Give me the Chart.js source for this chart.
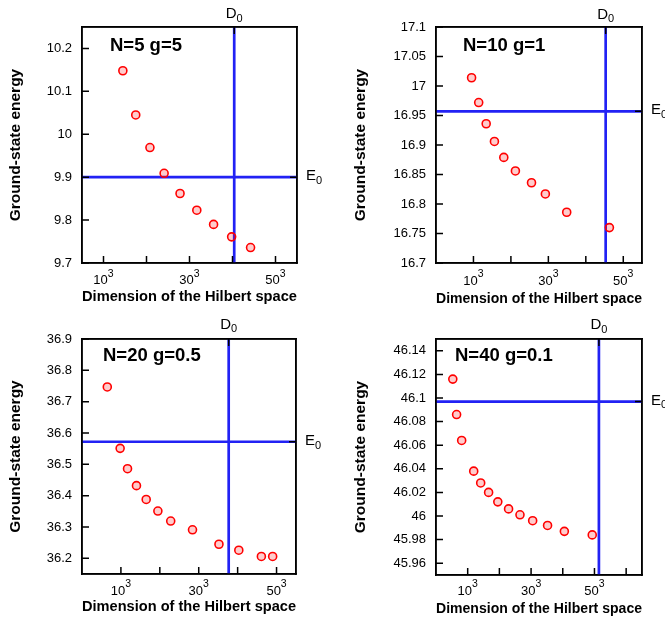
<!DOCTYPE html>
<html><head><meta charset="utf-8">
<script src="https://cdn.jsdelivr.net/npm/chart.js@4.4.1/dist/chart.umd.min.js"></script>
<style>
html,body{margin:0;padding:0;background:#fff;}
body{position:relative;width:665px;height:625px;overflow:hidden;}
canvas{position:absolute;}
</style></head><body>
<canvas id="c1"></canvas><canvas id="c2"></canvas><canvas id="c3"></canvas><canvas id="c4"></canvas>
<script>
// ---------------- data ----------------
const panelTitles = ['N=5 g=5', 'N=10 g=1', 'N=20 g=0.5', 'N=40 g=0.1'];
const xAxisTitle = 'Dimension of the Hilbert space';
const yAxisTitle = 'Ground-state energy';
const xTickValues = [10, 20, 30, 40, 50, 60];
const xTickLabelBase = ['10', '', '30', '', '50', ''];
const xTickLabelExp = ['3', '', '3', '', '3', ''];
const d0LabelBase = 'D', d0LabelSub = '0';
const e0LabelBase = 'E', e0LabelSub = '0';

// x = cube root of the Hilbert-space dimension, y = ground-state energy
const p1Dim = [14.5, 17.5, 20.8, 24.1, 27.8, 31.7, 35.6, 39.8, 44.2];
const p1Energy = [10.148, 10.045, 9.969, 9.909, 9.862, 9.823, 9.790, 9.761, 9.736];
const p2Dim = [9.5, 11.4, 13.4, 15.6, 18.1, 21.2, 25.5, 29.2, 34.9, 46.3];
const p2Energy = [17.014, 16.972, 16.936, 16.906, 16.879, 16.856, 16.836, 16.817, 16.786, 16.760];
const p3Dim = [6.5, 9.8, 11.7, 14.0, 16.5, 19.5, 22.8, 28.4, 35.2, 40.3, 46.1, 49.0];
const p3Energy = [36.747, 36.551, 36.486, 36.432, 36.388, 36.351, 36.319, 36.291, 36.245, 36.226, 36.206, 36.206];
const p4Dim = [5.3, 6.5, 8.1, 11.9, 14.1, 16.6, 19.5, 22.9, 26.5, 30.5, 35.2, 40.5, 49.3];
const p4Energy = [46.116, 46.086, 46.064, 46.038, 46.028, 46.020, 46.012, 46.006, 46.001, 45.996, 45.992, 45.987, 45.984];
const d0Values = [40.4, 45.3, 37.7, 51.4];
const e0Values = [9.9, 16.957, 36.572, 46.097];
const xMins = [5, 0, 0, 0];
const xMaxs = [55, 55, 55, 65];
const yMins = [9.7, 16.7, 36.15, 45.95];
const yMaxs = [10.25, 17.1, 36.9, 46.15];
const p1YTicks = [9.7, 9.8, 9.9, 10, 10.1, 10.2];
const p2YTicks = [16.7, 16.75, 16.8, 16.85, 16.9, 16.95, 17, 17.05, 17.1];
const p3YTicks = [36.2, 36.3, 36.4, 36.5, 36.6, 36.7, 36.8, 36.9];
const p4YTicks = [45.96, 45.98, 46, 46.02, 46.04, 46.06, 46.08, 46.1, 46.12, 46.14];

const dims = [p1Dim, p2Dim, p3Dim, p4Dim];
const energies = [p1Energy, p2Energy, p3Energy, p4Energy];
const yTicks = [p1YTicks, p2YTicks, p3YTicks, p4YTicks];

// ---------------- layout / style ----------------
const FONT = '"Liberation Sans", Arial, Helvetica, sans-serif';
Chart.defaults.font.family = FONT;
Chart.defaults.color = '#000';
const BLUE = '#2222f4';
const TICK_LEN = 7;

const panels = [
  {id:'c1', left:0,   top:0,   width:333, height:312, area:{l:82,  r:297, t:27,  b:263}, yTitlePad:6,  xTitlePad:5.6, titleDx:28, titleDy:23.7, xLblDy:21.3, d0Dy:8.7},
  {id:'c2', left:333, top:0,   width:332, height:312, area:{l:436, r:642, t:27,  b:263}, yTitlePad:18, xTitlePad:4.4, titleDx:27, titleDy:24,   xLblDy:21.5, d0Dy:8.2},
  {id:'c3', left:0,   top:312, width:333, height:313, area:{l:82,  r:296, t:339, b:574}, yTitlePad:6,  xTitlePad:8.6, titleDx:21, titleDy:22,   xLblDy:21,   d0Dy:10.5},
  {id:'c4', left:333, top:312, width:332, height:313, area:{l:436, r:642, t:339, b:575}, yTitlePad:18, xTitlePad:7.4, titleDx:19, titleDy:21.7, xLblDy:19.8, d0Dy:10}
];

const frameAndTicks = {
  id: 'frameAndTicks',
  afterDatasetsDraw(chart) {
    const {ctx, chartArea: a, scales} = chart;
    ctx.save();
    ctx.strokeStyle = '#000';
    ctx.lineWidth = 1.5;
    ctx.beginPath();
    scales.x.ticks.forEach(t => { const p = scales.x.getPixelForValue(t.value); ctx.moveTo(p, a.bottom); ctx.lineTo(p, a.bottom - TICK_LEN); });
    scales.y.ticks.forEach(t => { const p = scales.y.getPixelForValue(t.value); ctx.moveTo(a.left, p); ctx.lineTo(a.left + TICK_LEN, p); });
    scales.x2.ticks.forEach(t => { const p = scales.x2.getPixelForValue(t.value); ctx.moveTo(p, a.top); ctx.lineTo(p, a.top + TICK_LEN); });
    scales.y2.ticks.forEach(t => { const p = scales.y2.getPixelForValue(t.value); ctx.moveTo(a.right, p); ctx.lineTo(a.right - TICK_LEN, p); });
    ctx.stroke();
    ctx.strokeRect(a.left, a.top, a.right - a.left, a.bottom - a.top);
    ctx.restore();
  }
};

const panelTitle = {
  id: 'panelTitle',
  afterDatasetsDraw(chart, args, opts) {
    const {ctx, chartArea: a} = chart;
    ctx.save();
    ctx.font = 'bold 18.5px ' + FONT;
    ctx.fillStyle = '#000';
    ctx.textAlign = 'left';
    ctx.textBaseline = 'alphabetic';
    ctx.fillText(opts.text, a.left + opts.dx, a.top + opts.dy);
    ctx.restore();
  }
};

// tick labels with super/subscripts, placed at the scales' tick pixels
function drawScripted(ctx, base, script, bigPx, smallPx, cx, baseY, scriptDy, xStart) {
  ctx.font = bigPx + 'px ' + FONT;
  const wb = ctx.measureText(base).width;
  ctx.font = smallPx + 'px ' + FONT;
  const ws = ctx.measureText(script).width;
  const x0 = xStart !== undefined ? xStart : cx - (wb + ws) / 2;
  ctx.font = bigPx + 'px ' + FONT;
  ctx.fillText(base, x0, baseY);
  ctx.font = smallPx + 'px ' + FONT;
  ctx.fillText(script, x0 + wb, baseY + scriptDy);
}

const scriptLabels = {
  id: 'scriptLabels',
  afterDraw(chart, args, o) {
    const {ctx, chartArea: a, scales} = chart;
    ctx.save();
    ctx.fillStyle = '#000';
    ctx.textAlign = 'left';
    ctx.textBaseline = 'alphabetic';
    scales.x.ticks.forEach(t => {
      const k = xTickValues.indexOf(t.value);
      if (k < 0 || !xTickLabelBase[k]) return;
      drawScripted(ctx, xTickLabelBase[k], xTickLabelExp[k], 13, 10.5,
                   scales.x.getPixelForValue(t.value), a.bottom + o.xLblDy, -7.6);
    });
    scales.x2.ticks.forEach(t => {
      drawScripted(ctx, d0LabelBase, d0LabelSub, 15, 11,
                   scales.x2.getPixelForValue(t.value), a.top - o.d0Dy, 3.6);
    });
    scales.y2.ticks.forEach(t => {
      drawScripted(ctx, e0LabelBase, e0LabelSub, 15, 11,
                   0, scales.y2.getPixelForValue(t.value) + 3, 3.8, a.right + 9);
    });
    ctx.restore();
  }
};

function makeChart(i) {
  const P = panels[i];
  const cv = document.getElementById(P.id);
  cv.width = P.width; cv.height = P.height;
  cv.style.left = P.left + 'px'; cv.style.top = P.top + 'px';
  cv.style.width = P.width + 'px'; cv.style.height = P.height + 'px';
  const yW = P.area.l - P.left;
  const y2W = P.left + P.width - P.area.r;
  const x2H = P.area.t - P.top;
  const xH = P.top + P.height - P.area.b;
  const noGrid = {display: false, drawTicks: false, drawOnChartArea: false};
  const border = {display: true, color: '#000', width: 1.5};

  new Chart(cv, {
    type: 'scatter',
    data: {
      datasets: [
        {
          data: dims[i].map((d, k) => ({x: d, y: energies[i][k]})),
          xAxisID: 'x', yAxisID: 'y',
          pointRadius: 4, pointHoverRadius: 4,
          pointBorderWidth: 1.6,
          borderColor: '#ff0000',
          backgroundColor: 'rgba(255,0,0,0.2)'
        },
        {
          type: 'line',
          data: [{x: d0Values[i], y: yMins[i]}, {x: d0Values[i], y: yMaxs[i]}],
          xAxisID: 'x', yAxisID: 'y',
          borderColor: BLUE, borderWidth: 2.7, pointRadius: 0, fill: false, tension: 0
        },
        {
          type: 'line',
          data: [{x: xMins[i], y: e0Values[i]}, {x: xMaxs[i], y: e0Values[i]}],
          xAxisID: 'x', yAxisID: 'y',
          borderColor: BLUE, borderWidth: 2.7, pointRadius: 0, fill: false, tension: 0
        }
      ]
    },
    options: {
      responsive: false,
      animation: false,
      devicePixelRatio: 1,
      layout: {padding: 0},
      events: [],
      plugins: {
        legend: {display: false},
        tooltip: {enabled: false},
        title: {display: false},
        panelTitle: {text: panelTitles[i], dx: P.titleDx, dy: P.titleDy},
        scriptLabels: {xLblDy: P.xLblDy, d0Dy: P.d0Dy}
      },
      scales: {
        x: {
          type: 'linear', position: 'bottom', min: xMins[i], max: xMaxs[i],
          afterFit: s => { s.height = xH; },
          afterBuildTicks: s => { s.ticks = xTickValues.filter(v => v > xMins[i] && v < xMaxs[i]).map(v => ({value: v})); },
          ticks: {display: false},
          grid: noGrid, border,
          title: {display: true, text: xAxisTitle, font: {size: 15.5, weight: 'bold'}, padding: {top: 0, bottom: P.xTitlePad}}
        },
        y: {
          type: 'linear', position: 'left', min: yMins[i], max: yMaxs[i],
          afterFit: s => { s.width = yW; },
          afterBuildTicks: s => { s.ticks = yTicks[i].map(v => ({value: v})); },
          ticks: {autoSkip: false, padding: 10, font: {size: 13}, callback: v => String(v)},
          grid: noGrid, border,
          title: {display: true, text: yAxisTitle, font: {size: 15.5, weight: 'bold'}, padding: {top: P.yTitlePad, bottom: 0}}
        },
        x2: {
          type: 'linear', position: 'top', min: xMins[i], max: xMaxs[i],
          afterFit: s => { s.height = x2H; },
          afterBuildTicks: s => { s.ticks = [{value: d0Values[i]}]; },
          ticks: {display: false},
          grid: noGrid, border
        },
        y2: {
          type: 'linear', position: 'right', min: yMins[i], max: yMaxs[i],
          afterFit: s => { s.width = y2W; },
          afterBuildTicks: s => { s.ticks = [{value: e0Values[i]}]; },
          ticks: {display: false},
          grid: noGrid, border
        }
      }
    },
    plugins: [frameAndTicks, panelTitle, scriptLabels]
  });
}

[0, 1, 2, 3].forEach(makeChart);
</script>
</body></html>
